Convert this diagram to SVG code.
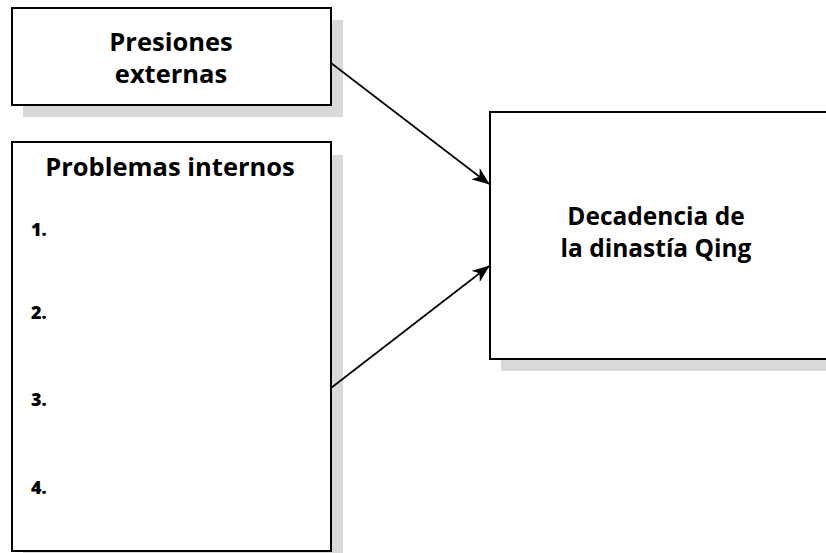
<svg xmlns="http://www.w3.org/2000/svg" width="826" height="553" viewBox="0 0 826 553">
<defs>
<style>
.shadow{fill:#d9d9d9;stroke:none}
.box{fill:#fff;stroke:#000;stroke-width:2}
.t{font-family:"Open Sans","Liberation Sans",sans-serif;font-weight:bold;fill:#000}
.h{font-size:25.5px;text-anchor:middle}
.d{font-size:24.5px;text-anchor:middle}
.n{font-size:18px;font-weight:800}
.c{stroke:#000;stroke-width:1.6;fill:none}
</style>
<marker id="ah" markerWidth="18" markerHeight="14" refX="17" refY="7" orient="auto" markerUnits="userSpaceOnUse">
<path d="M0,0 L18,7 L0,14 L5,7 Z" fill="#000"/>
</marker>
</defs>
<rect width="826" height="553" fill="#fff"/>
<g id="presiones">
<rect class="shadow" x="23" y="20" width="320" height="97"/>
<rect class="box" x="12" y="8" width="319" height="97"/>
<text class="t h" x="171" y="51">Presiones</text>
<text class="t h" x="171" y="83">externas</text>
</g>
<g id="problemas">
<rect class="shadow" x="23" y="155" width="320" height="410"/>
<rect class="box" x="12" y="142" width="319" height="409"/>
<text class="t h" x="170" y="176">Problemas internos</text>
<text class="t n" x="31" y="236">1.</text>
<text class="t n" x="31" y="319">2.</text>
<text class="t n" x="31" y="406">3.</text>
<text class="t n" x="31" y="494">4.</text>
</g>
<g id="decadencia">
<rect class="shadow" x="501" y="124" width="340" height="247"/>
<rect class="box" x="490" y="112" width="350" height="247"/>
<text class="t d" x="656" y="225">Decadencia de</text>
<text class="t d" x="656" y="257">la dinastía Qing</text>
</g>
<g id="connectors">
<line class="c" x1="331" y1="63" x2="489" y2="184" marker-end="url(#ah)"/>
<line class="c" x1="331" y1="388" x2="489" y2="266" marker-end="url(#ah)"/>
</g>
</svg>
